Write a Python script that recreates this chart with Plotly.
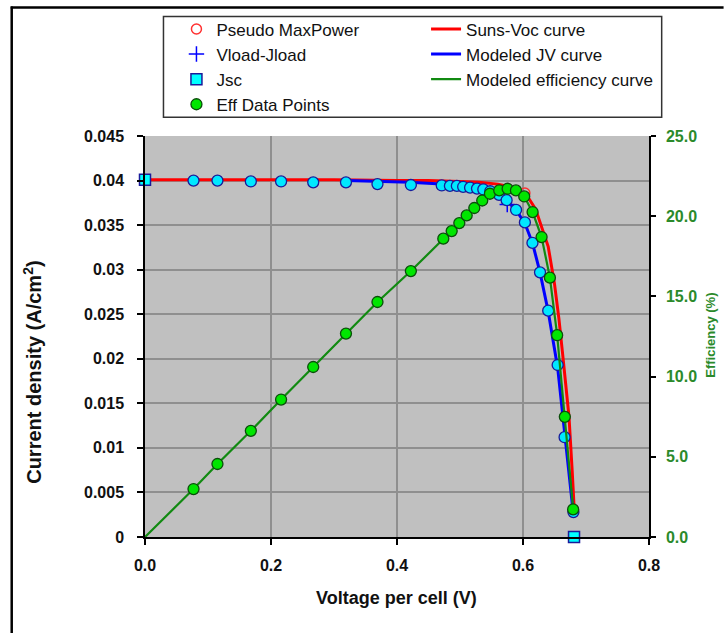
import plotly.graph_objects as go

# ---------------- data ----------------
# Cyan JV data points (voltage V, current density A/cm2)
jv_points_v = [0.077, 0.115, 0.168, 0.216, 0.267, 0.319, 0.369, 0.422, 0.471, 0.484,
               0.495, 0.505, 0.516, 0.527, 0.537, 0.548, 0.562, 0.574, 0.589, 0.603,
               0.615, 0.627, 0.640, 0.655, 0.666, 0.680]
jv_points_j = [0.0400, 0.0400, 0.0399, 0.0399, 0.0398, 0.0398, 0.0396, 0.0395, 0.03945, 0.0394,
               0.0394, 0.0393, 0.0392, 0.0391, 0.0390, 0.0388, 0.0384, 0.0378, 0.0367, 0.0353,
               0.0330, 0.0297, 0.0254, 0.0193, 0.0112, 0.0028]

# Efficiency data points (voltage V, efficiency %)
eff_points_v = [0.077, 0.115, 0.168, 0.216, 0.267, 0.319, 0.369, 0.422, 0.4735, 0.4868,
                0.4989, 0.5106, 0.5227, 0.5353, 0.5475, 0.5623, 0.5756, 0.5888, 0.6019,
                0.6152, 0.6295, 0.6427, 0.6542, 0.6664, 0.6796]
eff_points_e = [2.99, 4.55, 6.62, 8.57, 10.60, 12.68, 14.65, 16.58, 18.60, 19.07,
                19.57, 20.05, 20.51, 20.98, 21.40, 21.61, 21.71, 21.61, 21.23,
                20.26, 18.70, 16.17, 12.58, 7.49, 1.72]

# Modeled efficiency curve
eff_curve_v = [0.0, 0.077, 0.115, 0.168, 0.216, 0.267, 0.319, 0.369, 0.422, 0.4735, 0.4868,
               0.4989, 0.5106, 0.5227, 0.5353, 0.5475, 0.5623, 0.5756, 0.5888, 0.6019,
               0.6152, 0.6295, 0.6427, 0.6542, 0.6664, 0.6796]
eff_curve_e = [0.0, 2.99, 4.55, 6.62, 8.57, 10.60, 12.68, 14.65, 16.58, 18.60, 19.07,
               19.57, 20.05, 20.51, 20.98, 21.40, 21.61, 21.71, 21.61, 21.23,
               20.26, 18.70, 16.17, 12.58, 7.49, 1.72]

# Suns-Voc curve
sunsvoc_v = [0.0, 0.1, 0.2, 0.3, 0.4, 0.45, 0.5, 0.53, 0.56, 0.58, 0.595, 0.61, 0.62,
             0.63, 0.64, 0.65, 0.657, 0.664, 0.673, 0.678, 0.681]
sunsvoc_j = [0.0401, 0.0401, 0.0401, 0.0401, 0.0400, 0.0400, 0.0399, 0.0398, 0.0396, 0.0393,
             0.0388, 0.0379, 0.0368, 0.0348, 0.0326, 0.0284, 0.0245, 0.0198, 0.0135, 0.0075,
             0.0035]

# Modeled JV curve
model_v = [0.32, 0.37, 0.42, 0.47, 0.50, 0.52, 0.54, 0.56, 0.575, 0.59, 0.603, 0.615,
           0.627, 0.64, 0.655, 0.666, 0.672, 0.6796]
model_j = [0.0400, 0.0399, 0.0398, 0.0396, 0.0394, 0.0392, 0.0389, 0.0384, 0.0377, 0.0366,
           0.0352, 0.0330, 0.0297, 0.0253, 0.0190, 0.0115, 0.0075, 0.0028]

# Single points
pseudo_v = [0.603]
pseudo_j = [0.0386]
vload_v = [0.575]
vload_j = [0.0373]
jsc_v = [0.0, 0.681]
jsc_j = [0.0401, 0.0]

# Axis ticks
x_ticks = [0.0, 0.2, 0.4, 0.6, 0.8]
x_ticktext = ["0.0", "0.2", "0.4", "0.6", "0.8"]
y_ticks = [0, 0.005, 0.01, 0.015, 0.02, 0.025, 0.03, 0.035, 0.04, 0.045]
y_ticktext = ["0", "0.005", "0.01", "0.015", "0.02", "0.025", "0.03", "0.035", "0.04", "0.045"]
y2_ticks = [0, 5, 10, 15, 20, 25]
y2_ticktext = ["0.0", "5.0", "10.0", "15.0", "20.0", "25.0"]

# ---------------- layout geometry (pixels) ----------------
W_PX, H_PX = 724, 633
L, R, T, B = 144.5, 649.3, 135.7, 537.0
PW, PH = R - L, B - T


def px_x(px):
    return (px - L) / PW


def px_y(py):
    return (B - py) / PH


FONT = "Liberation Sans, Arial, sans-serif"
GREEN_TXT = "#2b8a2b"

fig = go.Figure()

# Lines
fig.add_trace(go.Scatter(x=sunsvoc_v, y=sunsvoc_j, mode="lines", name="Suns-Voc curve",
                         line=dict(color="#FF0000", width=3), legend="legend2", legendrank=1))
fig.add_trace(go.Scatter(x=model_v, y=model_j, mode="lines", name="Modeled JV curve",
                         line=dict(color="#0000FF", width=3), legend="legend2", legendrank=2))
fig.add_trace(go.Scatter(x=eff_curve_v, y=eff_curve_e, mode="lines", name="Modeled efficiency curve",
                         yaxis="y2", line=dict(color="#118a11", width=2.2),
                         legend="legend2", legendrank=3))

# Points
fig.add_trace(go.Scatter(x=pseudo_v, y=pseudo_j, mode="markers", name="Pseudo MaxPower",
                         marker=dict(symbol="circle-open", size=10, color="#FF3030",
                                     line=dict(width=1.5)), legend="legend", legendrank=1,
                         cliponaxis=False))
fig.add_trace(go.Scatter(x=vload_v, y=vload_j, mode="markers", name="Vload-Jload",
                         marker=dict(symbol="cross-thin-open", size=11, color="#0000FF",
                                     line=dict(width=1.5, color="#0000FF")),
                         legend="legend", legendrank=2, cliponaxis=False))
fig.add_trace(go.Scatter(x=jv_points_v, y=jv_points_j, mode="markers", name="JV data",
                         showlegend=False,
                         marker=dict(symbol="circle", size=11, color="#00E8FF",
                                     line=dict(width=1.3, color="#1a1a9a")), cliponaxis=False))
fig.add_trace(go.Scatter(x=eff_points_v, y=eff_points_e, mode="markers", name="Eff Data Points",
                         yaxis="y2",
                         marker=dict(symbol="circle", size=11, color="#00E600",
                                     line=dict(width=1.3, color="#0b4d0b")),
                         legend="legend", legendrank=4, cliponaxis=False))
fig.add_trace(go.Scatter(x=jsc_v, y=jsc_j, mode="markers", name="Jsc",
                         marker=dict(symbol="square", size=11, color="#00FFFF",
                                     line=dict(width=1.5, color="#1a1a9a")),
                         legend="legend", legendrank=3, cliponaxis=False))

axis_font = dict(family=FONT, size=16, color="#111111", weight="bold")
legend_font = dict(family=FONT, size=17, color="#111111")

fig.update_layout(
    width=W_PX, height=H_PX,
    margin=dict(l=L, r=W_PX - R, t=T, b=H_PX - B, pad=0),
    paper_bgcolor="white",
    plot_bgcolor="#C0C0C0",
    font=dict(family=FONT, color="#111111"),
    xaxis=dict(range=[0, 0.8], tickvals=x_ticks, ticktext=x_ticktext,
               showgrid=True, gridcolor="#8f8f8f", gridwidth=1.5,
               showline=True, linecolor="black", linewidth=1.5,
               ticks="outside", ticklen=6, tickcolor="black", tickwidth=1.5,
               tickfont=axis_font, ticklabelstandoff=7, zeroline=False),
    yaxis=dict(range=[0, 0.045], tickvals=y_ticks, ticktext=y_ticktext,
               showgrid=True, gridcolor="#8f8f8f", gridwidth=1.5,
               showline=True, linecolor="black", linewidth=1.5,
               ticks="outside", ticklen=6, tickcolor="black", tickwidth=1.5,
               tickfont=axis_font, ticklabelstandoff=10, zeroline=False),
    yaxis2=dict(range=[0, 25], tickvals=y2_ticks, ticktext=y2_ticktext,
                overlaying="y", side="right", showgrid=False,
                showline=True, linecolor="black", linewidth=1.5,
                ticks="outside", ticklen=5, tickcolor="black", tickwidth=1.5,
                tickfont=dict(family=FONT, size=16, color=GREEN_TXT, weight="bold"),
                ticklabelstandoff=7, zeroline=False),
    showlegend=True,
    legend=dict(x=px_x(176), y=px_y(11), xanchor="left", yanchor="top",
                bgcolor="rgba(0,0,0,0)", borderwidth=0, font=legend_font,
                traceorder="normal"),
    legend2=dict(x=px_x(426), y=px_y(11), xanchor="left", yanchor="top",
                 bgcolor="rgba(0,0,0,0)", borderwidth=0, font=legend_font,
                 traceorder="normal"),
    shapes=[
        dict(type="line", xref="paper", yref="paper", x0=px_x(10), x1=px_x(724),
             y0=px_y(7), y1=px_y(7), line=dict(color="black", width=2.5)),
        dict(type="line", xref="paper", yref="paper", x0=px_x(11), x1=px_x(11),
             y0=px_y(6), y1=px_y(633), line=dict(color="black", width=2.5)),
        dict(type="rect", xref="paper", yref="paper", x0=px_x(163), x1=px_x(662),
             y0=px_y(16), y1=px_y(117), line=dict(color="#333333", width=1.5),
             fillcolor="white", layer="below"),
    ],
    annotations=[
        dict(text="Current density (A/cm<sup>2</sup>)", xref="paper", yref="paper",
             x=px_x(31), y=px_y(372), textangle=-90, showarrow=False,
             xanchor="center", yanchor="middle",
             font=dict(family=FONT, size=20, color="#111111", weight="bold")),
        dict(text="Voltage per cell (V)", xref="paper", yref="paper",
             x=px_x(396), y=px_y(598), showarrow=False, xanchor="center", yanchor="middle",
             font=dict(family=FONT, size=18, color="#111111", weight="bold")),
        dict(text="Efficiency (%)", xref="paper", yref="paper",
             x=px_x(711), y=px_y(335), textangle=-90, showarrow=False,
             xanchor="center", yanchor="middle",
             font=dict(family=FONT, size=13, color=GREEN_TXT, weight="bold")),
    ],
)

fig.write_html("out.html", post_script="document.body.style.margin='0px';",
               config={"displayModeBar": False})
